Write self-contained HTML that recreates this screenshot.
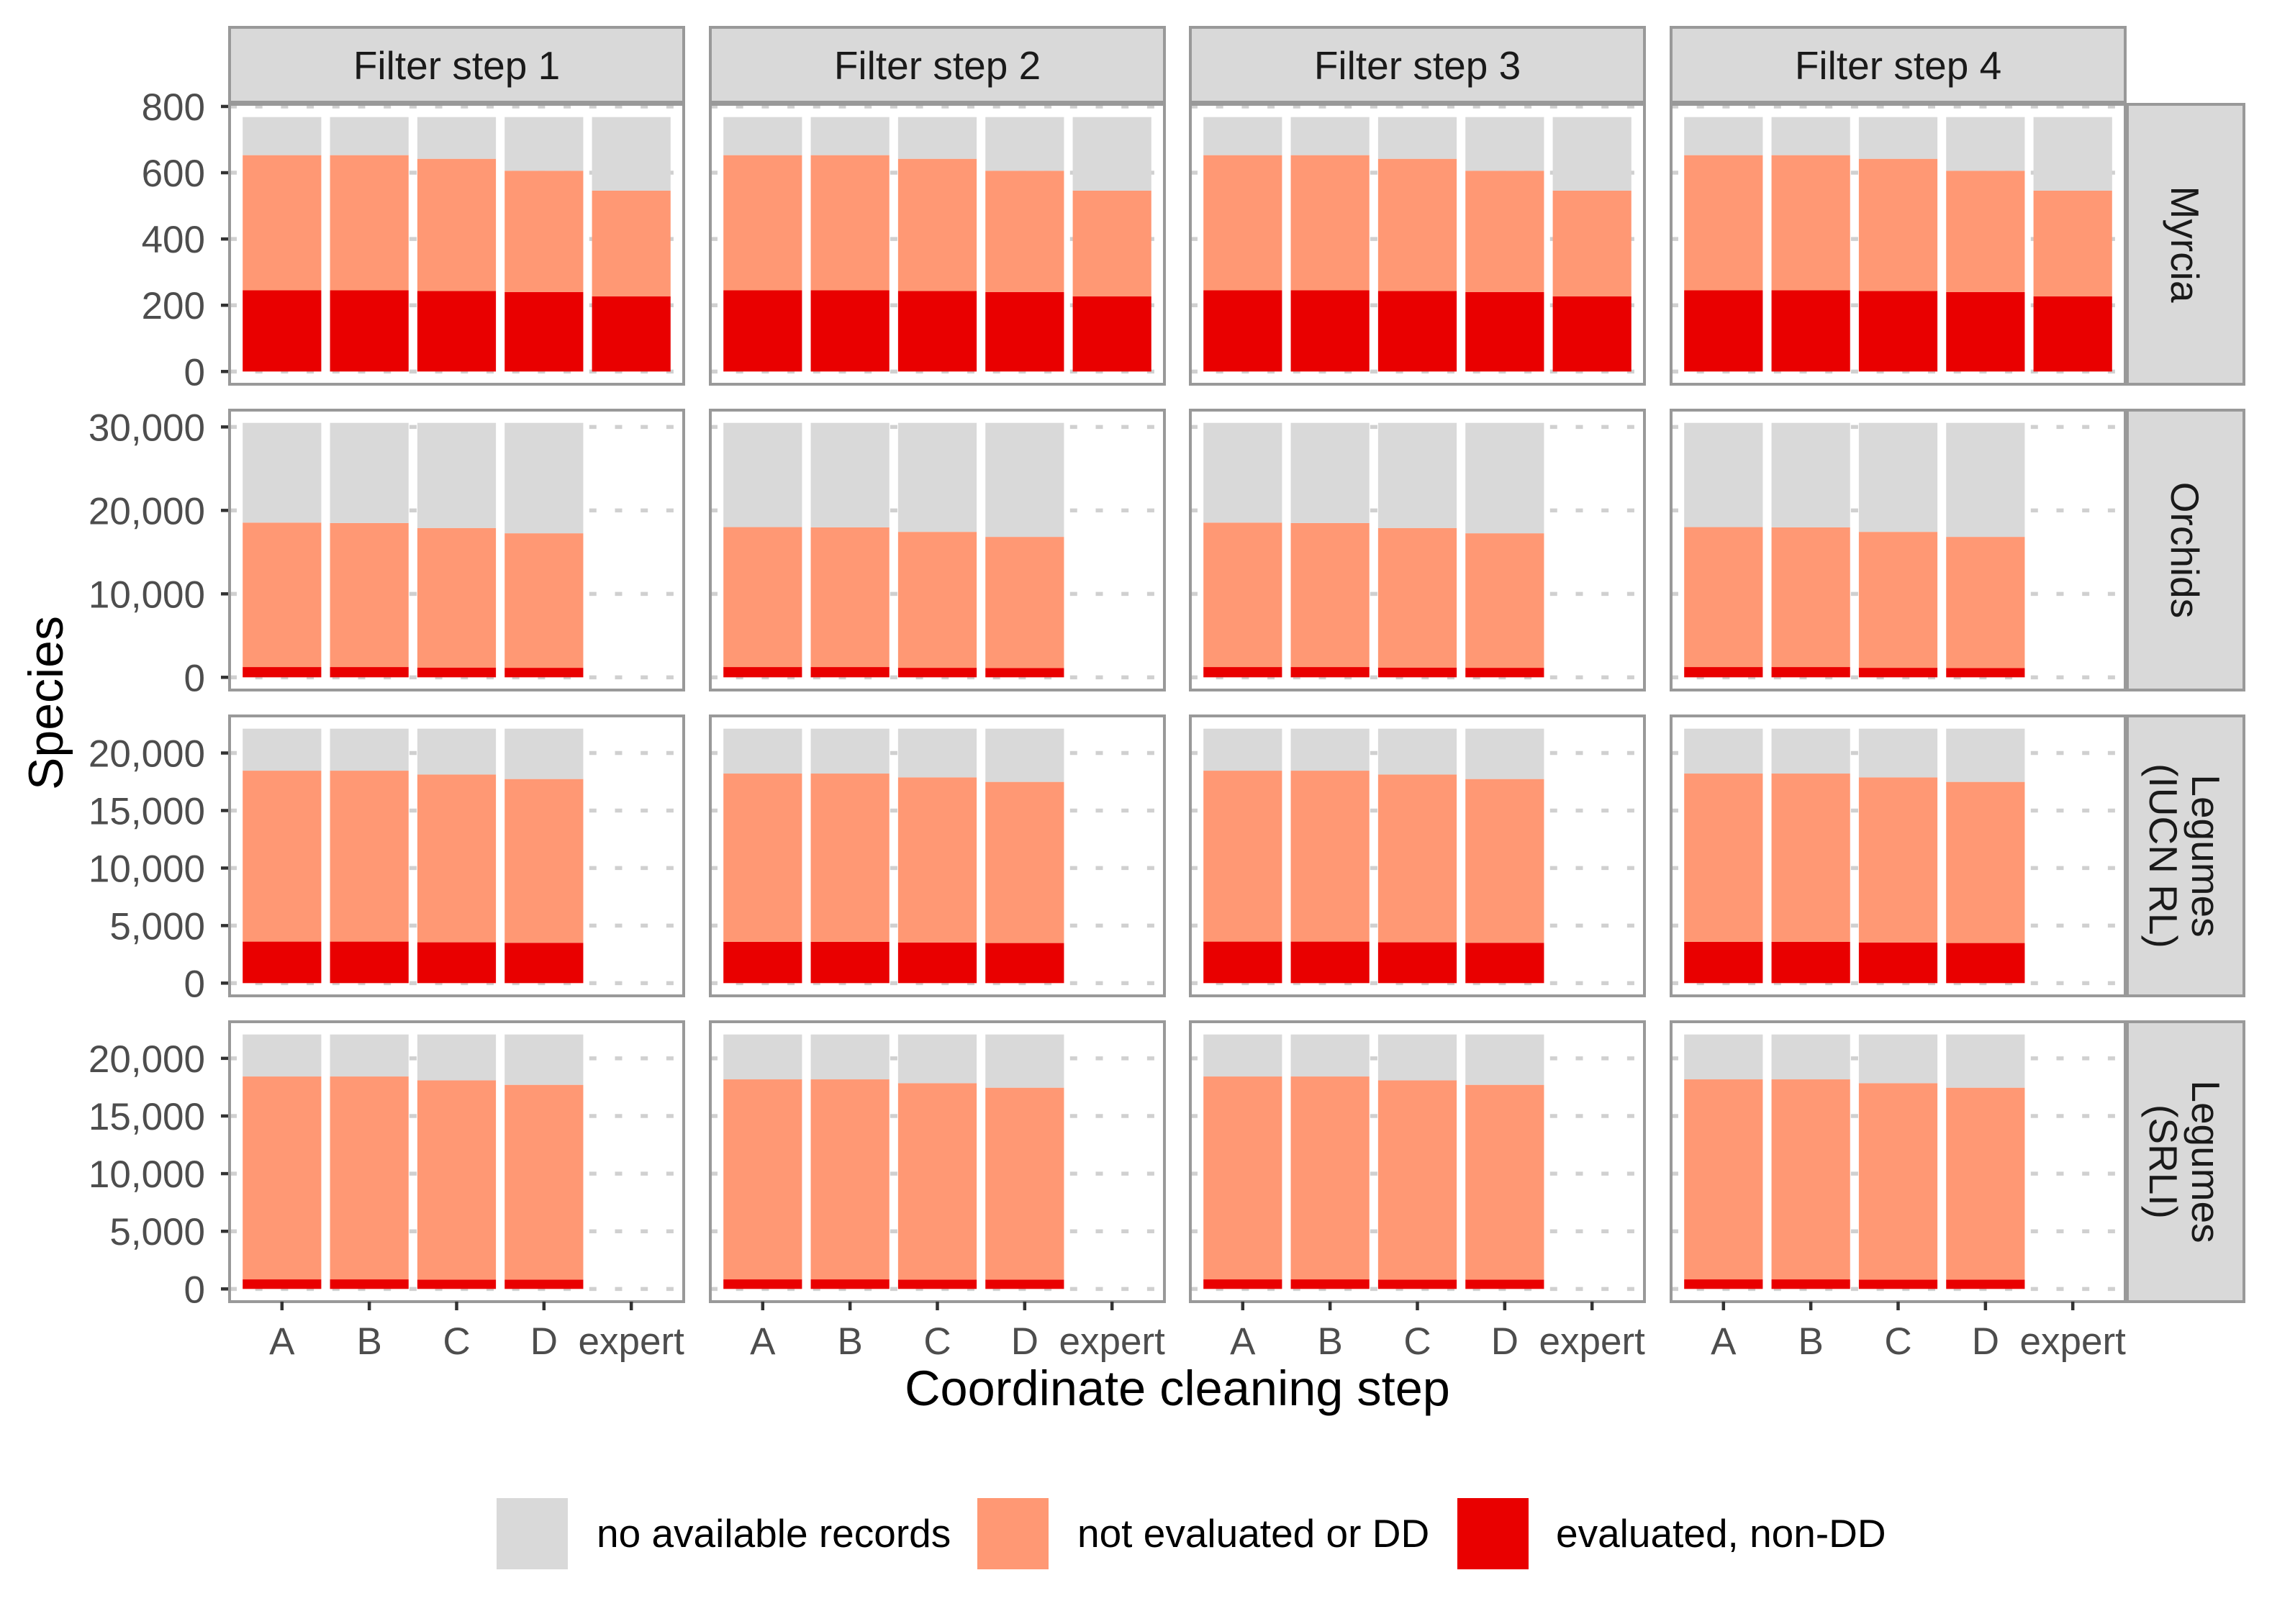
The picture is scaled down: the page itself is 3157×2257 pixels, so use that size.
<!DOCTYPE html>
<html><head><meta charset="utf-8"><style>
html,body{margin:0;padding:0;background:#fff;}
svg{display:block;font-family:"Liberation Sans",Arial,sans-serif;}
</style></head><body>
<svg id="chart" xmlns="http://www.w3.org/2000/svg" width="3157" height="2257" viewBox="0 0 3157 2257">
<rect x="0" y="0" width="3157" height="2257" fill="#fff"/>
<g id="layer"></g>
<text x="64" y="977" font-size="68" fill="#000" text-anchor="middle" transform="rotate(-90 64 977)" dy="23">Species</text>
<text x="1636" y="1953" font-size="68.5" fill="#000" text-anchor="middle">Coordinate cleaning step</text>
<g>
<rect x="690" y="2082" width="99" height="99" fill="#d9d9d9"/>
<text x="829" y="2150" font-size="55" fill="#000">no available records</text>
<rect x="1358" y="2082" width="99" height="99" fill="#ff9874"/>
<text x="1497" y="2150" font-size="55" fill="#000">not evaluated or DD</text>
<rect x="2025" y="2082" width="99" height="99" fill="#e90000"/>
<text x="2162" y="2150" font-size="55" fill="#000">evaluated, non-DD</text>
</g>
</svg>
<script>
const categories = ["A","B","C","D","expert"];
const filterSteps = ["Filter step 1","Filter step 2","Filter step 3","Filter step 4"];
const groups = ["Myrcia","Orchids","Legumes (IUCN RL)","Legumes (SRLI)"];
const groupLabelLines = [["Myrcia"],["Orchids"],["Legumes","(IUCN RL)"],["Legumes","(SRLI)"]];
// evaluated, non-DD (red)
const myrciaEval = [245,245,243,240,227];
const orchidEvalA = [1230,1230,1170,1140];
const orchidEvalB = [1230,1230,1140,1110];
const iucnEvalA = [3610,3610,3548,3506];
const iucnEvalB = [3590,3590,3527,3485];
const srliEvalA = [828,828,808,808];
const srliEvalB = [828,828,808,808];
// not evaluated or DD (orange)
const myrciaNotEval = [408,408,399,366,319];
const orchidNotEvalA = [17310,17260,16720,16120];
const orchidNotEvalB = [16770,16740,16290,15720];
const iucnNotEvalA = [14855,14855,14585,14233];
const iucnNotEvalB = [14626,14626,14357,14005];
const srliNotEvalA = [17599,17599,17287,16894];
const srliNotEvalB = [17350,17350,17039,16645];
// no available records (grey)
const myrciaNoRec = [115,115,126,162,222];
const orchidNoRecA = [11950,12000,12600,13230];
const orchidNoRecB = [12490,12520,13060,13660];
const iucnNoRecA = [3651,3651,3983,4377];
const iucnNoRecB = [3900,3900,4232,4626];
const srliNoRecA = [3643,3643,3975,4368];
const srliNoRecB = [3892,3892,4223,4617];
// tick labels per row
const myrciaTicks = [0,200,400,600,800];
const orchidTicks = [0,10000,20000,30000];
const legumeTicks = [0,5000,10000,15000,20000];

const rowTicks = [myrciaTicks, orchidTicks, legumeTicks, legumeTicks];
const panelData = [
  [[myrciaEval,myrciaNotEval,myrciaNoRec],[myrciaEval,myrciaNotEval,myrciaNoRec],[myrciaEval,myrciaNotEval,myrciaNoRec],[myrciaEval,myrciaNotEval,myrciaNoRec]],
  [[orchidEvalA,orchidNotEvalA,orchidNoRecA],[orchidEvalB,orchidNotEvalB,orchidNoRecB],[orchidEvalA,orchidNotEvalA,orchidNoRecA],[orchidEvalB,orchidNotEvalB,orchidNoRecB]],
  [[iucnEvalA,iucnNotEvalA,iucnNoRecA],[iucnEvalB,iucnNotEvalB,iucnNoRecB],[iucnEvalA,iucnNotEvalA,iucnNoRecA],[iucnEvalB,iucnNotEvalB,iucnNoRecB]],
  [[srliEvalA,srliNotEvalA,srliNoRecA],[srliEvalB,srliNotEvalB,srliNoRecB],[srliEvalA,srliNotEvalA,srliNoRecA],[srliEvalB,srliNotEvalB,srliNoRecB]]
];
const fills = ["#e90000","#ff9874","#d9d9d9"];
const segNames = ["evaluated","not-evaluated","no-records"];

const NS = "http://www.w3.org/2000/svg";
const layer = document.getElementById("layer");
function mk(tag, attrs, parent){
  const e = document.createElementNS(NS, tag);
  for (const k in attrs) e.setAttribute(k, attrs[k]);
  (parent||layer).appendChild(e);
  return e;
}
const colLeft = [319, 987, 1654, 2322];
const panelW = 631;
const rowTop = [145, 570, 995, 1420];
const panelH = 389;
const band = panelW / (categories.length - 1 + 1.2);

function xCenter(c, i){ return colLeft[c] + (0.6 + i) * band; }

for (let r = 0; r < 4; r++) {
  let rmax = 0;
  panelData[r].forEach(p => {
    for (let i = 0; i < p[0].length; i++) rmax = Math.max(rmax, p[0][i] + p[1][i] + p[2][i]);
  });
  const bottom = rowTop[r] + panelH;
  const yS = v => bottom - (v + 0.05 * rmax) / (1.1 * rmax) * panelH;

  rowTicks[r].forEach(t => {
    const y = yS(t);
    const tk = mk("line", {x1: 307, x2: 319, y1: y, y2: y, stroke: "#333", "stroke-width": 4.5});
    
    
    const lb = mk("text", {x: 285, y: y + 19, "font-size": 53, fill: "#4d4d4d", "text-anchor": "end"});
    lb.textContent = t.toLocaleString("en-US");
    
    
  });

  for (let c = 0; c < 4; c++) {
    const g = mk("g", {});
    
    
    const bg = mk("rect", {x: colLeft[c], y: rowTop[r], width: panelW, height: panelH, fill: "#fff"}, g);
    
    
    rowTicks[r].forEach(t => {
      const y = yS(t);
      const gl = mk("line", {x1: colLeft[c], x2: colLeft[c] + panelW, y1: y, y2: y, stroke: "#d0d0d0", "stroke-width": 5.5, "stroke-dasharray": "10 25.7"}, g);
      
      
    });
    const [ev, ne, nr] = panelData[r][c];
    for (let i = 0; i < ev.length; i++) {
      const vals = [ev[i], ne[i], nr[i]];
      let base = 0;
      const xc = xCenter(c, i);
      for (let s = 0; s < 3; s++) {
        const y0 = yS(base), y1 = yS(base + vals[s]);
        const b = mk("rect", {x: xc - 0.45 * band, y: y1, width: 0.9 * band, height: Math.max(0, y0 - y1), fill: fills[s]}, g);
        
        
        base += vals[s];
      }
    }
    const bd = mk("rect", {x: colLeft[c], y: rowTop[r], width: panelW, height: panelH, fill: "none", stroke: "#999", "stroke-width": 4}, g);
    
    
  }
  const sg = mk("g", {});
  
  
  mk("rect", {x: 2956, y: rowTop[r], width: 162, height: panelH, fill: "#d9d9d9", stroke: "#999", "stroke-width": 4}, sg);
  const cy = rowTop[r] + panelH / 2;
  const lines = groupLabelLines[r];
  const bases = lines.length === 1 ? [3017] : [3046, 2987];
  lines.forEach((ln, k) => {
    const t = mk("text", {x: bases[k], y: cy, "font-size": 55, fill: "#1a1a1a", "text-anchor": "middle", transform: "rotate(90 " + bases[k] + " " + cy + ")"}, sg);
    t.textContent = ln;
    
    
  });
}
for (let c = 0; c < 4; c++) {
  const sg = mk("g", {});
  
  
  mk("rect", {x: colLeft[c], y: 38, width: panelW, height: 104, fill: "#d9d9d9", stroke: "#999", "stroke-width": 4}, sg);
  const t = mk("text", {x: colLeft[c] + panelW / 2, y: 110, "font-size": 55, fill: "#1a1a1a", "text-anchor": "middle"}, sg);
  t.textContent = filterSteps[c];
  
  
  categories.forEach((cat, i) => {
    const x = xCenter(c, i);
    const tk = mk("line", {x1: x, x2: x, y1: 1809, y2: 1821, stroke: "#333", "stroke-width": 4.5});
    
    
    const lb = mk("text", {x: x, y: 1882, "font-size": 53, fill: "#4d4d4d", "text-anchor": "middle"});
    lb.textContent = cat;
    
    
  });
}
</script>
</body></html>
